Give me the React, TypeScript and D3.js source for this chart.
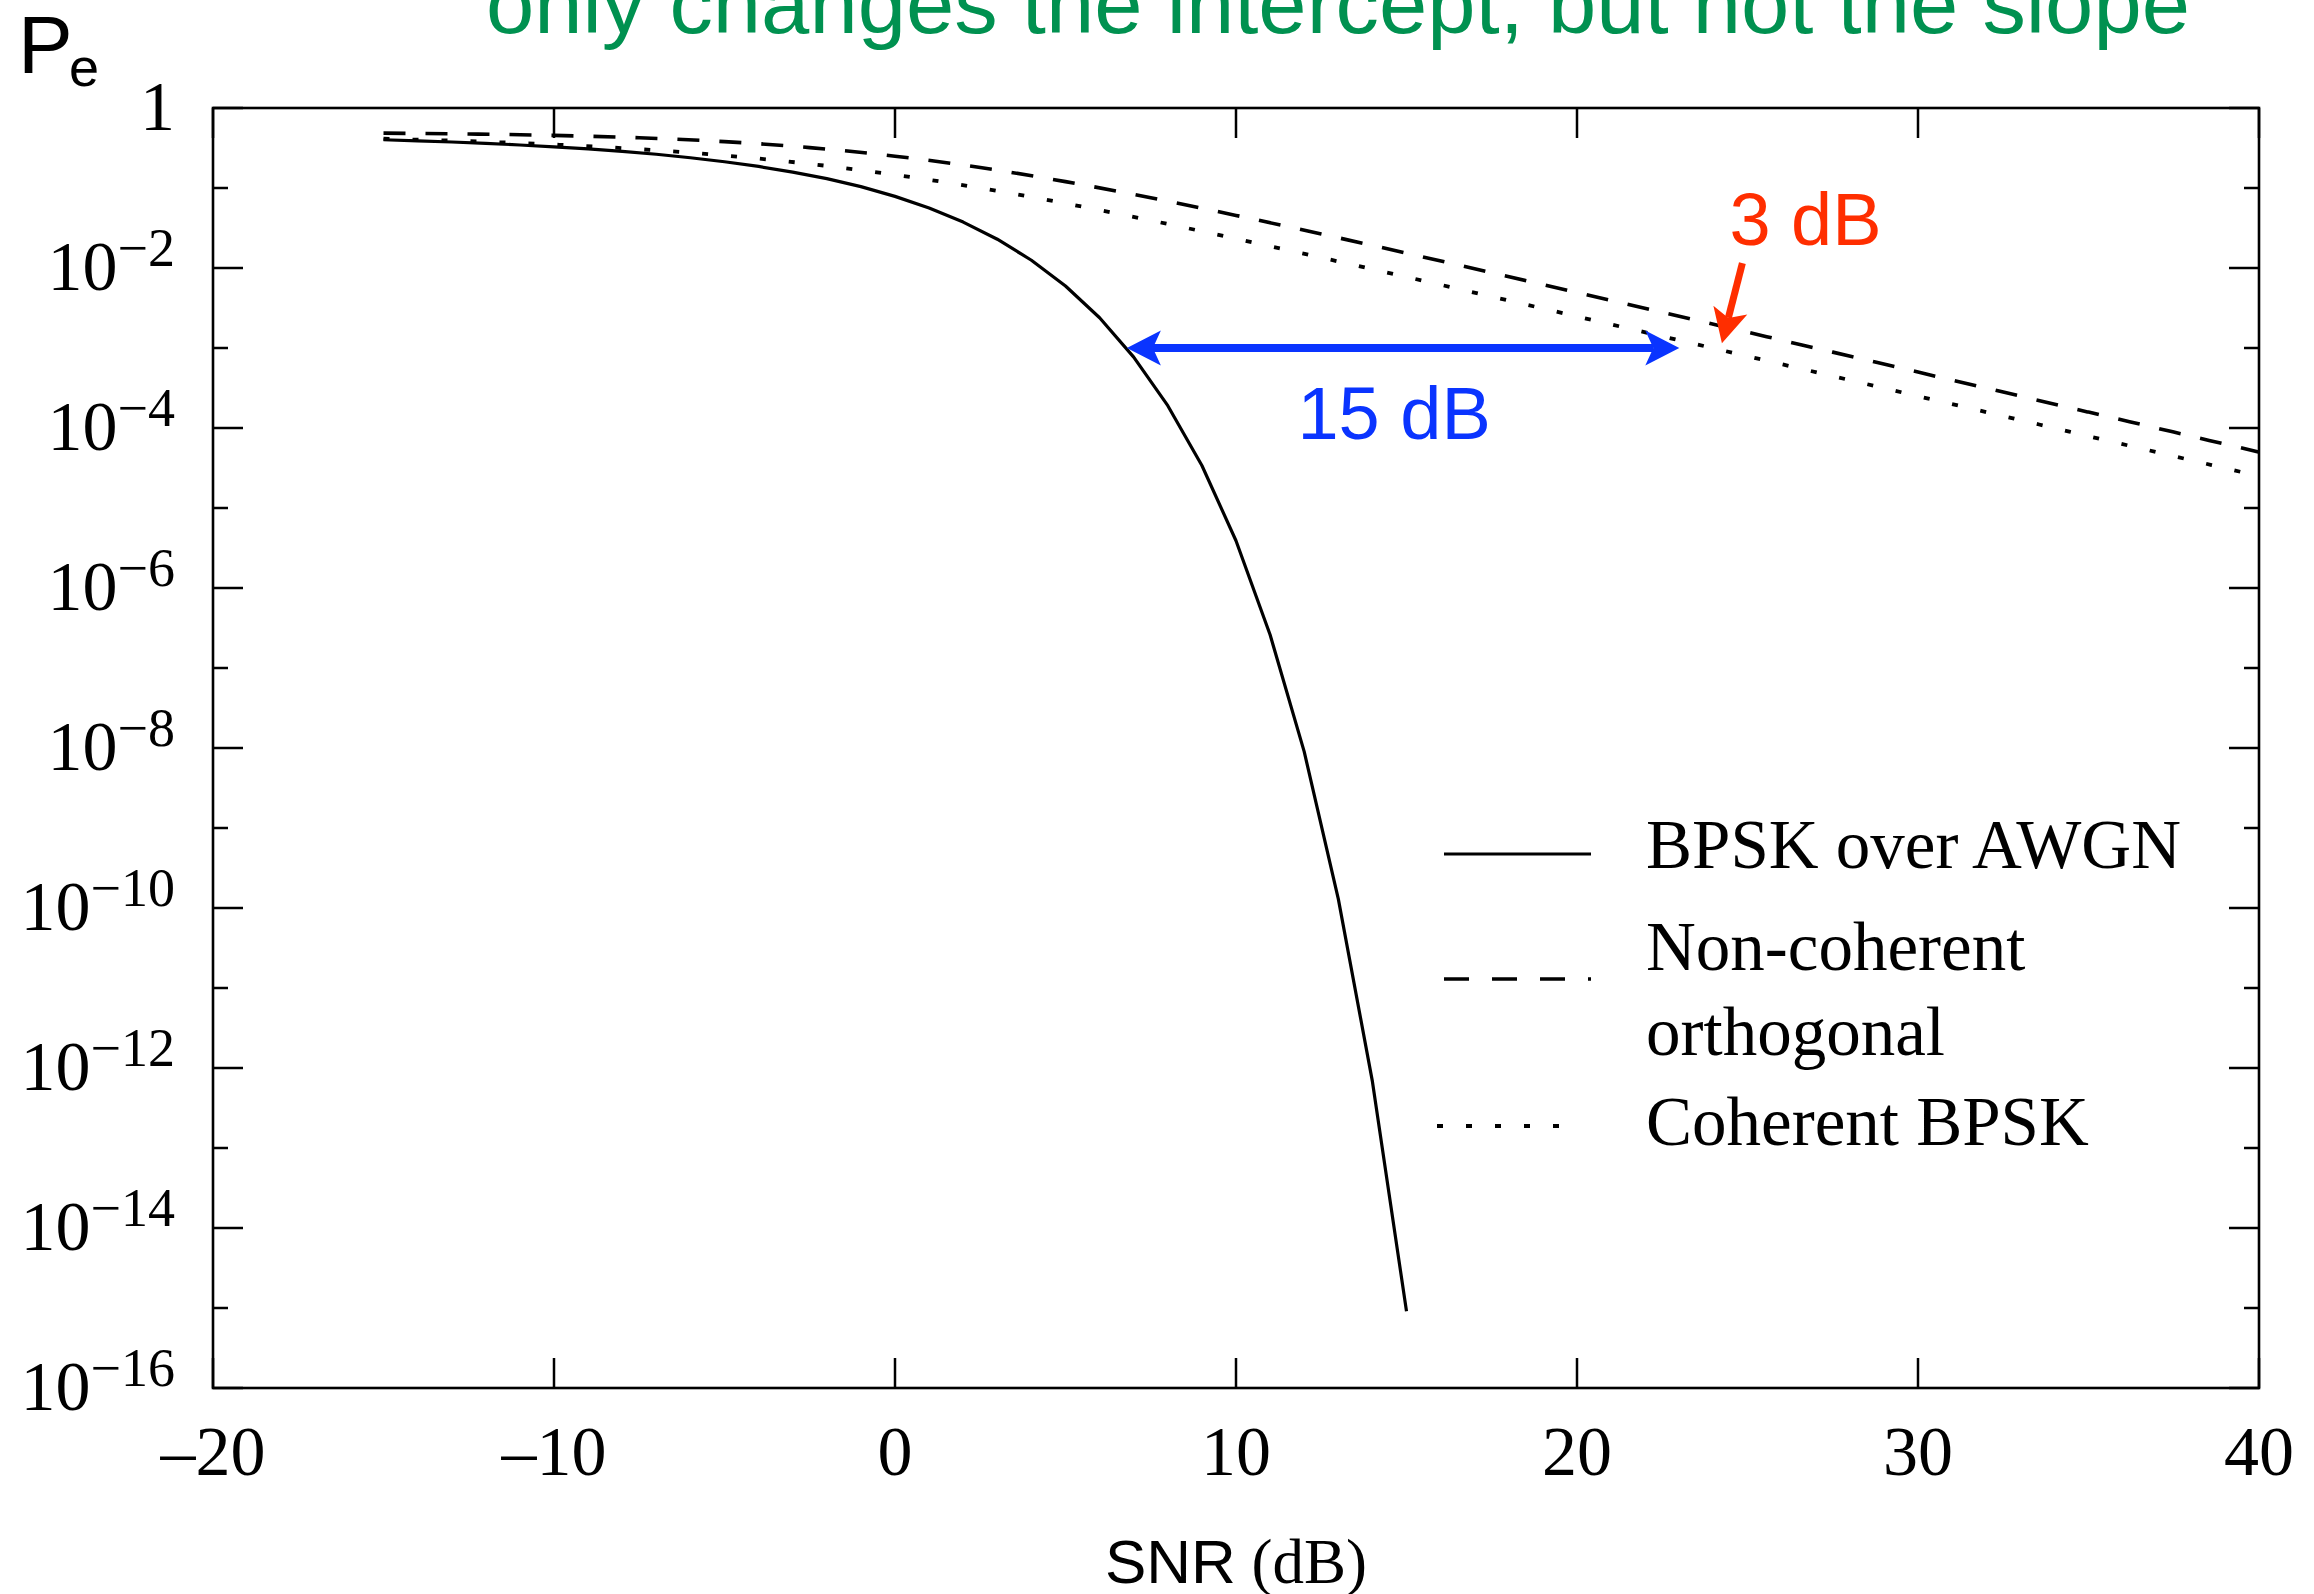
import React from "react";
import * as d3 from "d3";

// ---- data -------------------------------------------------------------
// BPSK over AWGN, sampled every 1 dB
const snrAwgn = [
  -15, -14, -13, -12, -11, -10, -9, -8, -7, -6, -5, -4, -3, -2, -1, 0, 1, 2, 3,
  4, 5, 6, 7, 8, 9, 10, 11, 12, 13, 14, 15,
];
const peAwgn = [
  0.401, 0.389, 0.376, 0.361, 0.345, 0.327, 0.308, 0.287, 0.264, 0.239, 0.213,
  0.186, 0.158, 0.131, 0.104, 0.0786, 0.0563, 0.0375, 0.0229, 0.0125, 0.00595,
  0.00239, 7.7e-4, 1.9e-4, 3.4e-5, 3.9e-6, 2.6e-7, 9.0e-9, 1.3e-10, 6.8e-13,
  9.1e-16,
];

// Rayleigh fading curves, sampled every 2.5 dB
const snrFading = [
  -15, -12.5, -10, -7.5, -5, -2.5, 0, 2.5, 5, 7.5, 10, 12.5, 15, 17.5, 20, 22.5,
  25, 27.5, 30, 32.5, 35, 37.5, 40,
];
const peNonCoherent = [
  0.4847, 0.4734, 0.4545, 0.4245, 0.3799, 0.32, 0.25, 0.18, 0.1201, 0.0755,
  0.04545, 0.02662, 0.01533, 0.008736, 0.00495, 0.002796, 0.001576, 8.88e-4,
  5.0e-4, 2.81e-4, 1.58e-4, 8.89e-5, 5.0e-5,
];
const peCoherent = [
  0.4125, 0.3846, 0.3493, 0.3057, 0.2549, 0.2, 0.1464, 0.1, 0.0642, 0.0393,
  0.02327, 0.01349, 0.007725, 0.004387, 0.002481, 0.0014, 7.89e-4, 4.45e-4,
  2.5e-4, 1.41e-4, 7.9e-5, 4.45e-5, 2.5e-5,
];

// axes
const xTicks = [-20, -10, 0, 10, 20, 30, 40];
const yMajorExp = [0, -2, -4, -6, -8, -10, -12, -14, -16];
const yMinorExp = [-1, -3, -5, -7, -9, -11, -13, -15];

// legend
const legendLabels = [
  ["BPSK over AWGN"],
  ["Non-coherent", "orthogonal"],
  ["Coherent BPSK"],
];

// annotations: [snr dB, Pe]
const gapArrow = [
  [6.8, 1e-3],
  [23.0, 1e-3],
];
const gapLabel = "15 dB";
const shiftArrow = [
  [24.85, 1.15e-2],
  [24.25, 1.15e-3],
];
const shiftLabel = "3 dB";
const headline = "only changes the intercept, but not the slope";

// ---- layout -----------------------------------------------------------
const W = 2314;
const H = 1594;
const L = 213;
const R = 2259;
const T = 108;
const B = 1388;

const SERIF = "'Liberation Serif', 'Times New Roman', serif";
const SANS = "'Liberation Sans', Arial, Helvetica, sans-serif";
const GREEN = "#009150";
const RED = "#ff2e00";
const BLUE = "#0a34ff";

const x = d3.scaleLinear().domain([-20, 40]).range([L, R]);
const y = d3.scaleLog().domain([1, 1e-16]).range([T, B]);

const DASH = "22 20";
const DOT = "6 23";

function arrowHead(tx: number, ty: number, fx: number, fy: number) {
  // tip at (tx,ty); pointing away from (fx,fy)
  const len = 34;
  const half = 17.5;
  const notch = 8;
  const a = Math.atan2(ty - fy, tx - fx);
  const ux = Math.cos(a);
  const uy = Math.sin(a);
  const px = -uy;
  const py = ux;
  const bx = tx - ux * len;
  const by = ty - uy * len;
  const nx = tx - ux * (len - notch);
  const ny = ty - uy * (len - notch);
  return {
    d: `M${tx},${ty}L${bx + px * half},${by + py * half}L${nx},${ny}L${
      bx - px * half
    },${by - py * half}Z`,
    nx,
    ny,
  };
}

export default function App() {
  const lineAwgn = d3
    .line<number>()
    .x((_, i) => x(snrAwgn[i]))
    .y((v) => y(v))
    .curve(d3.curveLinear);
  const lineFading = d3
    .line<number>()
    .x((_, i) => x(snrFading[i]))
    .y((v) => y(v))
    .curve(d3.curveMonotoneX);

  // gap arrow (double headed)
  const g0 = [x(gapArrow[0][0]), y(gapArrow[0][1])];
  const g1 = [x(gapArrow[1][0]), y(gapArrow[1][1])];
  const hL = arrowHead(g0[0], g0[1], g1[0], g1[1]);
  const hR = arrowHead(g1[0], g1[1], g0[0], g0[1]);

  // shift arrow
  const s0 = [x(shiftArrow[0][0]), y(shiftArrow[0][1])];
  const s1 = [x(shiftArrow[1][0]), y(shiftArrow[1][1])];
  const hS = arrowHead(s1[0], s1[1], s0[0], s0[1]);

  const legendX0 = 1444;
  const legendX1 = 1591;
  const legendTextX = 1646;

  return (
    <svg
      width={W}
      height={H}
      viewBox={`0 0 ${W} ${H}`}
      style={{ position: "absolute", left: 0, top: 0, background: "#fff" }}
    >
      <rect x={0} y={0} width={W} height={H} fill="#fff" />

      {/* headline */}
      <text
        x={486}
        y={33}
        fontFamily={SANS}
        fontSize={84}
        fill={GREEN}
        textLength={1704}
        lengthAdjust="spacingAndGlyphs"
      >
        {headline}
      </text>

      {/* y-axis title */}
      <text x={18} y={73} fontFamily={SANS} fontSize={82} fill="#000">
        P
      </text>
      <text x={69} y={86} fontFamily={SANS} fontSize={54} fill="#000">
        e
      </text>

      {/* frame */}
      <rect
        x={L}
        y={T}
        width={R - L}
        height={B - T}
        fill="none"
        stroke="#000"
        strokeWidth={2.6}
      />

      {/* x ticks (bottom and top) */}
      {xTicks.map((t) => (
        <g key={"xt" + t}>
          <line x1={x(t)} x2={x(t)} y1={B} y2={B - 30} stroke="#000" strokeWidth={2.5} />
          <line x1={x(t)} x2={x(t)} y1={T} y2={T + 30} stroke="#000" strokeWidth={2.5} />
          <text
            x={x(t)}
            y={1475}
            textAnchor="middle"
            fontFamily={SERIF}
            fontSize={70}
            fill="#000"
          >
            {t < 0 ? "\u2013" + Math.abs(t) : String(t)}
          </text>
        </g>
      ))}

      {/* y ticks */}
      {yMajorExp.map((e) => {
        const yy = y(Math.pow(10, e));
        return (
          <g key={"ym" + e}>
            <line x1={L} x2={L + 30} y1={yy} y2={yy} stroke="#000" strokeWidth={2.5} />
            <line x1={R} x2={R - 30} y1={yy} y2={yy} stroke="#000" strokeWidth={2.5} />
            <text
              x={175}
              y={yy + 22}
              textAnchor="end"
              fontFamily={SERIF}
              fontSize={70}
              fill="#000"
            >
              {e === 0 ? (
                "1"
              ) : (
                <>
                  <tspan>10</tspan>
                  <tspan dy={-24} fontSize={54}>
                    {"\u2212" + Math.abs(e)}
                  </tspan>
                </>
              )}
            </text>
          </g>
        );
      })}
      {yMinorExp.map((e) => {
        const yy = y(Math.pow(10, e));
        return (
          <g key={"yn" + e}>
            <line x1={L} x2={L + 15} y1={yy} y2={yy} stroke="#000" strokeWidth={2.5} />
            <line x1={R} x2={R - 15} y1={yy} y2={yy} stroke="#000" strokeWidth={2.5} />
          </g>
        );
      })}

      {/* x-axis title */}
      <text x={(L + R) / 2} y={1583} textAnchor="middle" fill="#000">
        <tspan fontFamily={SANS} fontSize={62}>
          SNR
        </tspan>
        <tspan fontFamily={SERIF} fontSize={63}>
          {" (dB)"}
        </tspan>
      </text>

      {/* curves */}
      <path
        d={lineFading(peNonCoherent) || ""}
        fill="none"
        stroke="#000"
        strokeWidth={3.6}
        strokeDasharray={DASH}
      />
      <path
        d={lineFading(peCoherent) || ""}
        fill="none"
        stroke="#000"
        strokeWidth={3.8}
        strokeDasharray={DOT}
      />
      <path
        d={lineAwgn(peAwgn) || ""}
        fill="none"
        stroke="#000"
        strokeWidth={3.2}
        strokeLinejoin="round"
      />

      {/* legend */}
      <line x1={legendX0} x2={legendX1} y1={854} y2={854} stroke="#000" strokeWidth={3.2} />
      <line
        x1={legendX0}
        x2={legendX1}
        y1={979}
        y2={979}
        stroke="#000"
        strokeWidth={3.6}
        strokeDasharray="25 23"
      />
      <line
        x1={1437}
        x2={1577}
        y1={1126}
        y2={1126}
        stroke="#000"
        strokeWidth={3.8}
        strokeDasharray={DOT}
      />
      <text x={legendTextX} y={868} fontFamily={SERIF} fontSize={69} fill="#000">
        {legendLabels[0][0]}
      </text>
      <text x={legendTextX} y={970} fontFamily={SERIF} fontSize={69} fill="#000">
        {legendLabels[1][0]}
      </text>
      <text x={legendTextX} y={1055} fontFamily={SERIF} fontSize={69} fill="#000">
        {legendLabels[1][1]}
      </text>
      <text x={legendTextX} y={1145} fontFamily={SERIF} fontSize={69} fill="#000">
        {legendLabels[2][0]}
      </text>

      {/* gap annotation */}
      <line x1={hL.nx} y1={hL.ny} x2={hR.nx} y2={hR.ny} stroke={BLUE} strokeWidth={8} />
      <path d={hL.d} fill={BLUE} />
      <path d={hR.d} fill={BLUE} />
      <text
        x={(g0[0] + g1[0]) / 2 - 9}
        y={g0[1] + 91}
        textAnchor="middle"
        fontFamily={SANS}
        fontSize={74}
        fill={BLUE}
      >
        {gapLabel}
      </text>

      {/* shift annotation */}
      <line x1={s0[0]} y1={s0[1]} x2={hS.nx} y2={hS.ny} stroke={RED} strokeWidth={7} />
      <path d={hS.d} fill={RED} />
      <text
        x={s0[0] - 13}
        y={s0[1] - 18}
        fontFamily={SANS}
        fontSize={74}
        fill={RED}
      >
        {shiftLabel}
      </text>
    </svg>
  );
}
